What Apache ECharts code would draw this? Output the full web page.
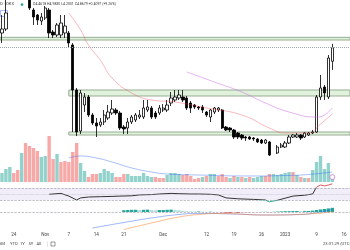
<!DOCTYPE html>
<html>
<head>
<meta charset="utf-8">
<style>html,body{margin:0;padding:0;background:#fff}#main{width:350px;height:250px}</style>
<script src="https://cdn.jsdelivr.net/npm/echarts@6/dist/echarts.min.js"></script>
</head>
<body>
<div id="main"></div>
<script>
var myChart = echarts.init(document.getElementById('main'));

// daily candles, 21 Oct 2022 .. 17 Jan 2023
var firstDay = [2022, 9, 21];
var dayCount = 89;
var tickDays = ['2022-10-24', '2022-11-01', '2022-11-07', '2022-11-14', '2022-11-21', '2022-12-01',
  '2022-12-12', '2022-12-19', '2022-12-26', '2023-01-01', '2023-01-09', '2023-01-16'];
var tickNames = ['24', 'Nov', '7', '14', '21', 'Dec', '12', '19', '26', '2023', '9', '16'];

// [open, close, low, high]
var candles = [
  [5.31, 5.43, 5.01, 5.85], [5.43, 5.91, 5.37, 6.36], [6.36, 6.66, 6.33, 6.78], [6.66, 6.48, 6.36, 6.78],
  [6.48, 6.36, 6.33, 6.60], [6.36, 6.72, 6.33, 6.84], [6.72, 6.42, 6.33, 6.81], [6.42, 6.06, 6.00, 6.48],
  [6.00, 5.79, 5.55, 6.06], [5.85, 5.70, 5.55, 5.88], [5.67, 5.79, 5.55, 5.91], [5.76, 6.06, 5.70, 6.12],
  [6.00, 5.31, 5.16, 6.06], [5.34, 5.25, 5.16, 5.40], [5.25, 5.55, 5.19, 5.61], [5.25, 5.61, 5.16, 5.85],
  [5.31, 5.52, 5.16, 5.85], [5.31, 5.01, 4.86, 5.37], [4.95, 3.60, 2.34, 5.01], [3.60, 2.34, 2.22, 3.66],
  [2.37, 3.51, 2.28, 3.60], [3.15, 3.39, 2.94, 3.51], [3.39, 2.85, 2.79, 3.45], [2.85, 2.61, 2.55, 2.91],
  [2.61, 2.52, 2.19, 2.76], [2.55, 2.64, 2.49, 2.76], [2.64, 2.85, 2.55, 3.00], [2.76, 2.94, 2.70, 3.15],
  [2.91, 3.03, 2.85, 3.30], [3.00, 2.91, 2.85, 3.06], [2.91, 2.46, 2.40, 2.97], [2.49, 2.43, 2.28, 2.55],
  [2.46, 2.64, 2.28, 2.76], [2.64, 2.79, 2.58, 2.85], [2.70, 2.85, 2.64, 2.91], [2.79, 2.85, 2.73, 3.00],
  [2.79, 3.06, 2.73, 3.30], [3.00, 3.09, 2.94, 3.30], [3.06, 2.79, 2.73, 3.12], [2.91, 2.79, 2.73, 2.97],
  [2.91, 3.06, 2.85, 3.15], [3.00, 3.06, 2.94, 3.18], [3.00, 3.15, 2.94, 3.30], [3.21, 3.36, 3.12, 3.54],
  [3.30, 3.39, 3.24, 3.60], [3.36, 3.45, 3.30, 3.60], [3.39, 3.30, 3.24, 3.60], [3.36, 3.06, 3.00, 3.42],
  [3.21, 3.06, 2.91, 3.27], [3.15, 3.09, 3.03, 3.18], [3.09, 3.06, 3.00, 3.12], [3.09, 3.00, 2.91, 3.15],
  [2.94, 2.85, 2.79, 2.97], [2.79, 3.00, 2.64, 3.03], [2.94, 3.06, 2.88, 3.09], [3.00, 3.06, 2.94, 3.09],
  [3.00, 2.46, 2.43, 3.03], [2.49, 2.40, 2.37, 2.52], [2.46, 2.40, 2.34, 2.49], [2.40, 2.19, 2.13, 2.43],
  [2.31, 2.19, 2.13, 2.34], [2.25, 2.16, 2.10, 2.28], [2.19, 2.16, 2.07, 2.22], [2.19, 2.13, 2.10, 2.22],
  [2.16, 2.13, 2.07, 2.19], [2.13, 2.04, 2.01, 2.16], [2.10, 2.01, 1.98, 2.13], [2.01, 2.10, 1.98, 2.13],
  [2.04, 1.65, 1.62, 2.07], [1.74, 1.68, 1.59, 1.77], [1.71, 1.89, 1.68, 1.95], [1.89, 1.95, 1.86, 2.01],
  [1.89, 2.01, 1.86, 2.07], [2.01, 2.19, 1.98, 2.25], [2.19, 2.25, 2.16, 2.28], [2.19, 2.25, 2.16, 2.31],
  [2.25, 2.16, 2.10, 2.28], [2.19, 2.31, 2.16, 2.34], [2.25, 2.31, 2.22, 2.34], [2.31, 2.34, 2.28, 2.40],
  [2.34, 3.39, 2.31, 3.45], [3.39, 3.66, 3.30, 4.05], [3.69, 3.51, 3.30, 3.75], [3.39, 4.56, 3.33, 4.65],
  [4.4618, 4.8679, 4.2031, 4.9830]
];

var volumes = [
  0.9, 1.3, 1.5, 0.9, 1.2, 2.9, 3.9, 3.6, 3.4, 3.1, 2.5, 2.6, 4.6, 2.3, 2.8, 2.0, 2.1, 2.0, 3.0, 3.9,
  1.9, 1.1, 0.5, 0.8, 0.8, 0.9, 1.3, 1.1, 0.9, 0.5, 0.5, 0.8, 0.8, 0.6, 0.6, 0.6, 0.9, 0.6, 0.5, 0.5,
  0.4, 0.4, 0.7, 0.9, 0.9, 0.8, 0.7, 0.8, 0.6, 0.3, 0.4, 0.5, 0.6, 0.8, 0.8, 0.6, 0.8, 0.5, 0.4, 0.6,
  0.5, 0.5, 0.4, 0.5, 0.4, 0.5, 0.6, 0.6, 0.8, 0.8, 0.7, 0.8, 0.9, 1.0, 1.0, 0.7, 0.5, 0.4, 0.4, 1.2,
  2.0, 2.6, 1.3, 1.9, 0.3
];
var volumeUp = [
  1, 1, 1, 0, 0, 1, 0, 0, 0, 0, 1, 1, 0, 0, 1, 0, 0, 0, 0, 0,
  1, 1, 0, 0, 0, 1, 1, 1, 1, 0, 0, 0, 1, 1, 1, 1, 1, 1, 1, 0,
  0, 0, 1, 1, 1, 1, 0, 0, 0, 0, 0, 1, 0, 1, 1, 0, 0, 0, 1, 0,
  1, 0, 1, 0, 1, 1, 1, 0, 0, 1, 1, 1, 1, 1, 0, 1, 0, 1, 0, 1,
  1, 1, 1, 1, 1
];

// [day index, value]
var maFast = [[17, 5.91], [20, 5.40], [22, 4.95], [25, 4.50], [28, 3.96], [33, 3.51], [38, 3.30],
  [44, 3.24], [52, 3.06], [61, 2.85], [68, 2.46], [72, 2.31], [78, 2.31], [81, 2.58], [84, 2.88]];
var maSlow = [[47, 4.14], [54, 3.84], [61, 3.54], [67, 3.21], [73, 2.94], [80, 2.79], [82, 2.85], [84, 3.06]];
var volumeMa = [[17, 2.4], [20, 2.6], [24, 2.4], [28, 2.0], [33, 1.4], [38, 1.0], [42, 0.8], [50, 0.7],
  [63, 0.6], [72, 0.65], [78, 0.75], [84, 1.0]];
var rsi = [[12, 49], [14, 51], [15, 52], [17, 43], [19, 30], [20, 37], [22, 40], [25, 41], [28, 42],
  [30, 43], [33, 44], [35, 47], [38, 48], [40, 50], [43, 52], [45, 51], [48, 50], [50, 50], [53, 49],
  [55, 47], [57, 37], [60, 34], [64, 32], [67, 30], [68, 24], [70, 29], [72, 36], [74, 43], [77, 46],
  [78, 48], [79, 50], [80, 73], [81, 80], [82, 77], [83, 80], [84, 84]];
var macdLine = [[23, -1.6], [31, -1.05], [38, -0.6], [45, -0.25], [50, -0.15], [59, -0.2], [67, -0.3],
  [76, -0.25], [80, -0.07], [84, 0.25]];
var signalLine = [[31, -1.75], [38, -1.1], [45, -0.5], [50, -0.25], [55, -0.15], [67, -0.3], [80, -0.15], [84, 0.05]];
var histStart = 31;
var macdHist = [0.18, 0.2, 0.22, 0.22, 0.2, 0.22, 0.24, 0.2, 0.18, 0.2, 0.2, 0.22, 0.24, 0.2, 0.18,
  0.12, 0.08, 0.06, 0.05, 0.05, 0.04, 0.03, 0.03, 0.02, 0.0, -0.03, -0.08, -0.1, -0.09, -0.1, -0.08,
  -0.06, -0.04, -0.02, -0.01, 0.01, 0.02, -0.02, 0.02, 0.04, 0.06, 0.08, 0.08, 0.09, 0.1, 0.08, 0.09,
  0.1, 0.14, 0.2, 0.26, 0.3, 0.36, 0.42];

// support / resistance zones: [top, bottom, start day index]
var zones = [[5.18, 5.10, null], [3.60, 3.42, 17], [2.34, 2.25, 17]];
var lastClose = 4.8679;

var days = [];
for (var d = 0; d < dayCount; d++) {
  days.push(new Date(Date.UTC(firstDay[0], firstDay[1], firstDay[2] + d)).toISOString().slice(0, 10));
}

var volumeBars = volumes.map(function (v, i) {
  return {
    value: v,
    itemStyle: { color: volumeUp[i] ? 'rgba(38,166,154,0.5)' : 'rgba(239,83,80,0.5)' }
  };
});

var histBars = macdHist.map(function (v, k) {
  var prev = k > 0 ? macdHist[k - 1] : 0;
  var c;
  if (v >= 0) c = v >= prev ? '#26a69a' : '#b2dfdb';
  else c = v <= prev ? '#ff5252' : '#ffcdd2';
  return { value: [histStart + k, v], itemStyle: { color: c } };
});

var zoneAreas = zones.map(function (z) {
  var a = { yAxis: z[0] };
  if (z[2] !== null) a.xAxis = days[z[2]];
  return [a, { yAxis: z[1] }];
});

var gridL = -1, gridR = -0.5;
var font = 'Roboto';

function xAx(i, showLabel) {
  return {
    type: 'category',
    gridIndex: i,
    data: days,
    boundaryGap: true,
    axisLine: { show: false },
    axisTick: { show: false },
    splitLine: { show: false },
    axisLabel: {
      show: showLabel,
      margin: 0,
      fontSize: 4.6,
      fontFamily: font,
      color: '#444',
      interval: function (idx, val) { return tickDays.indexOf(val) >= 0; },
      formatter: function (val) { return tickNames[tickDays.indexOf(val)]; }
    }
  };
}
function yAx(i, min, max) {
  return { type: 'value', gridIndex: i, min: min, max: max, show: false, splitLine: { show: false } };
}

var option = {
  backgroundColor: '#ffffff',
  animation: false,
  grid: [
    { left: gridL, right: gridR, top: 0, height: 150 },
    { left: gridL, right: gridR, top: 132, height: 50 },
    { left: gridL, right: gridR, top: 179, height: 30 },
    { left: gridL, right: gridR, top: 205, height: 27 }
  ],
  xAxis: [xAx(0, false), xAx(1, false), xAx(2, false), xAx(3, true)],
  yAxis: [yAx(0, 1.8, 6.3), yAx(1, 0, 5), yAx(2, 0, 100), yAx(3, -2.0, 0.7)],
  visualMap: {
    show: false,
    type: 'piecewise',
    seriesIndex: 5,
    dimension: 1,
    pieces: [
      { gt: 70, color: '#e0585c' },
      { lt: 30, color: '#22ab94' },
      { gte: 30, lte: 70, color: '#333333' }
    ]
  },
  series: [
    {
      name: 'price',
      type: 'candlestick',
      xAxisIndex: 0, yAxisIndex: 0,
      data: candles,
      clip: true,
      barWidth: '72%',
      itemStyle: {
        color: '#ffffff', color0: '#000000',
        borderColor: '#000000', borderColor0: '#000000',
        borderWidth: 0.8
      },
      markArea: {
        silent: true,
        z: 1,
        itemStyle: { color: 'rgba(178,220,168,0.4)', borderColor: '#97ad94', borderWidth: 1 },
        data: zoneAreas
      },
      markLine: {
        silent: true,
        symbol: 'none',
        label: { show: false },
        lineStyle: { color: '#a0a3ab', type: 'dotted', width: 1 },
        data: [{ yAxis: lastClose }]
      }
    },
    {
      name: 'MA fast', type: 'line', xAxisIndex: 0, yAxisIndex: 0,
      data: maFast, smooth: true, showSymbol: false,
      lineStyle: { color: 'rgba(242,54,69,0.35)', width: 1 }
    },
    {
      name: 'MA slow', type: 'line', xAxisIndex: 0, yAxisIndex: 0,
      data: maSlow, smooth: true, showSymbol: false,
      lineStyle: { color: 'rgba(200,90,230,0.45)', width: 1 }
    },
    {
      name: 'Volume', type: 'bar', xAxisIndex: 1, yAxisIndex: 1,
      data: volumeBars, barCategoryGap: '14%'
    },
    {
      name: 'Volume MA', type: 'line', xAxisIndex: 1, yAxisIndex: 1,
      data: volumeMa, smooth: true, showSymbol: false,
      lineStyle: { color: 'rgba(41,98,255,0.4)', width: 1 }
    },
    {
      name: 'RSI', type: 'line', xAxisIndex: 2, yAxisIndex: 2,
      data: rsi, showSymbol: false,
      lineStyle: { width: 1 },
      markArea: {
        silent: true,
        itemStyle: { color: 'rgba(126,87,194,0.1)' },
        data: [[{ yAxis: 70 }, { yAxis: 30 }]]
      },
      markLine: {
        silent: true,
        symbol: 'none',
        label: { show: false },
        data: [
          { yAxis: 70, lineStyle: { color: '#9598a1', type: 'dashed', width: 0.6 } },
          { yAxis: 50, lineStyle: { color: '#b2b5be', type: 'dotted', width: 0.6 } },
          { yAxis: 30, lineStyle: { color: '#9598a1', type: 'dashed', width: 0.6 } }
        ]
      }
    },
    {
      name: 'Histogram', type: 'bar', xAxisIndex: 3, yAxisIndex: 3,
      data: histBars, barCategoryGap: '14%',
      markLine: {
        silent: true, symbol: 'none', label: { show: false },
        lineStyle: { color: '#9598a1', type: 'dashed', width: 0.6 },
        data: [{ yAxis: 0 }]
      }
    },
    {
      name: 'MACD', type: 'line', xAxisIndex: 3, yAxisIndex: 3,
      data: macdLine, smooth: true, showSymbol: false,
      lineStyle: { color: 'rgba(41,98,255,0.45)', width: 1 }
    },
    {
      name: 'Signal', type: 'line', xAxisIndex: 3, yAxisIndex: 3,
      data: signalLine, smooth: true, showSymbol: false,
      lineStyle: { color: 'rgba(255,109,0,0.45)', width: 1 }
    },
    {
      name: 'marker', type: 'scatter', xAxisIndex: 1, yAxisIndex: 1,
      data: [[84, 0.5]], symbolSize: 5,
      itemStyle: { color: '#ffffff', borderColor: '#b05fd6', borderWidth: 0.8 }
    }
  ],
  graphic: [
    { type: 'rect', shape: { x: 0, y: 0, width: 20, height: 9 }, style: { fill: 'rgba(255,255,255,0.8)' } },
    { type: 'text', x: 0, y: 2, style: { text: 'D · OKX', fontSize: 4.2, fontFamily: font, fill: '#444' } },
    { type: 'circle', shape: { cx: 22, cy: 4.6, r: 1.3 }, style: { fill: '#22ab94' } },
    { type: 'text', x: 33, y: 2.6, style: { text: 'O4.4618 H4.9830 L4.2031 C4.8679 +0.4097 (+9.26%)', fontSize: 3.5, fontFamily: font, fill: '#333' } },
    { type: 'rect', shape: { x: 0.5, y: 10.5, width: 7, height: 6 }, style: { fill: '#ffffff', stroke: '#6c8ef5', lineWidth: 0.6 } },
    { type: 'text', x: -1, y: 242, style: { text: '6M', fontSize: 4.2, fontFamily: font, fill: '#444' } },
    { type: 'text', x: 10, y: 242, style: { text: 'YTD', fontSize: 4.2, fontFamily: font, fill: '#444' } },
    { type: 'text', x: 20, y: 242, style: { text: '1Y', fontSize: 4.2, fontFamily: font, fill: '#444' } },
    { type: 'text', x: 28.5, y: 242, style: { text: '5Y', fontSize: 4.2, fontFamily: font, fill: '#444' } },
    { type: 'text', x: 36.5, y: 242, style: { text: 'All', fontSize: 4.2, fontFamily: font, fill: '#444' } },
    { type: 'line', shape: { x1: 47.5, y1: 241.5, x2: 47.5, y2: 247 }, style: { stroke: '#d1d4dc', lineWidth: 0.6 } },
    { type: 'rect', shape: { x: 51, y: 242, width: 4, height: 4 }, style: { fill: 'none', stroke: '#555', lineWidth: 0.6 } },
    { type: 'text', x: 323, y: 242, style: { text: '23:31:29 (UTC+8)', fontSize: 4.2, fontFamily: font, fill: '#444' } }
  ]
};

myChart.setOption(option);
</script>
</body>
</html>
